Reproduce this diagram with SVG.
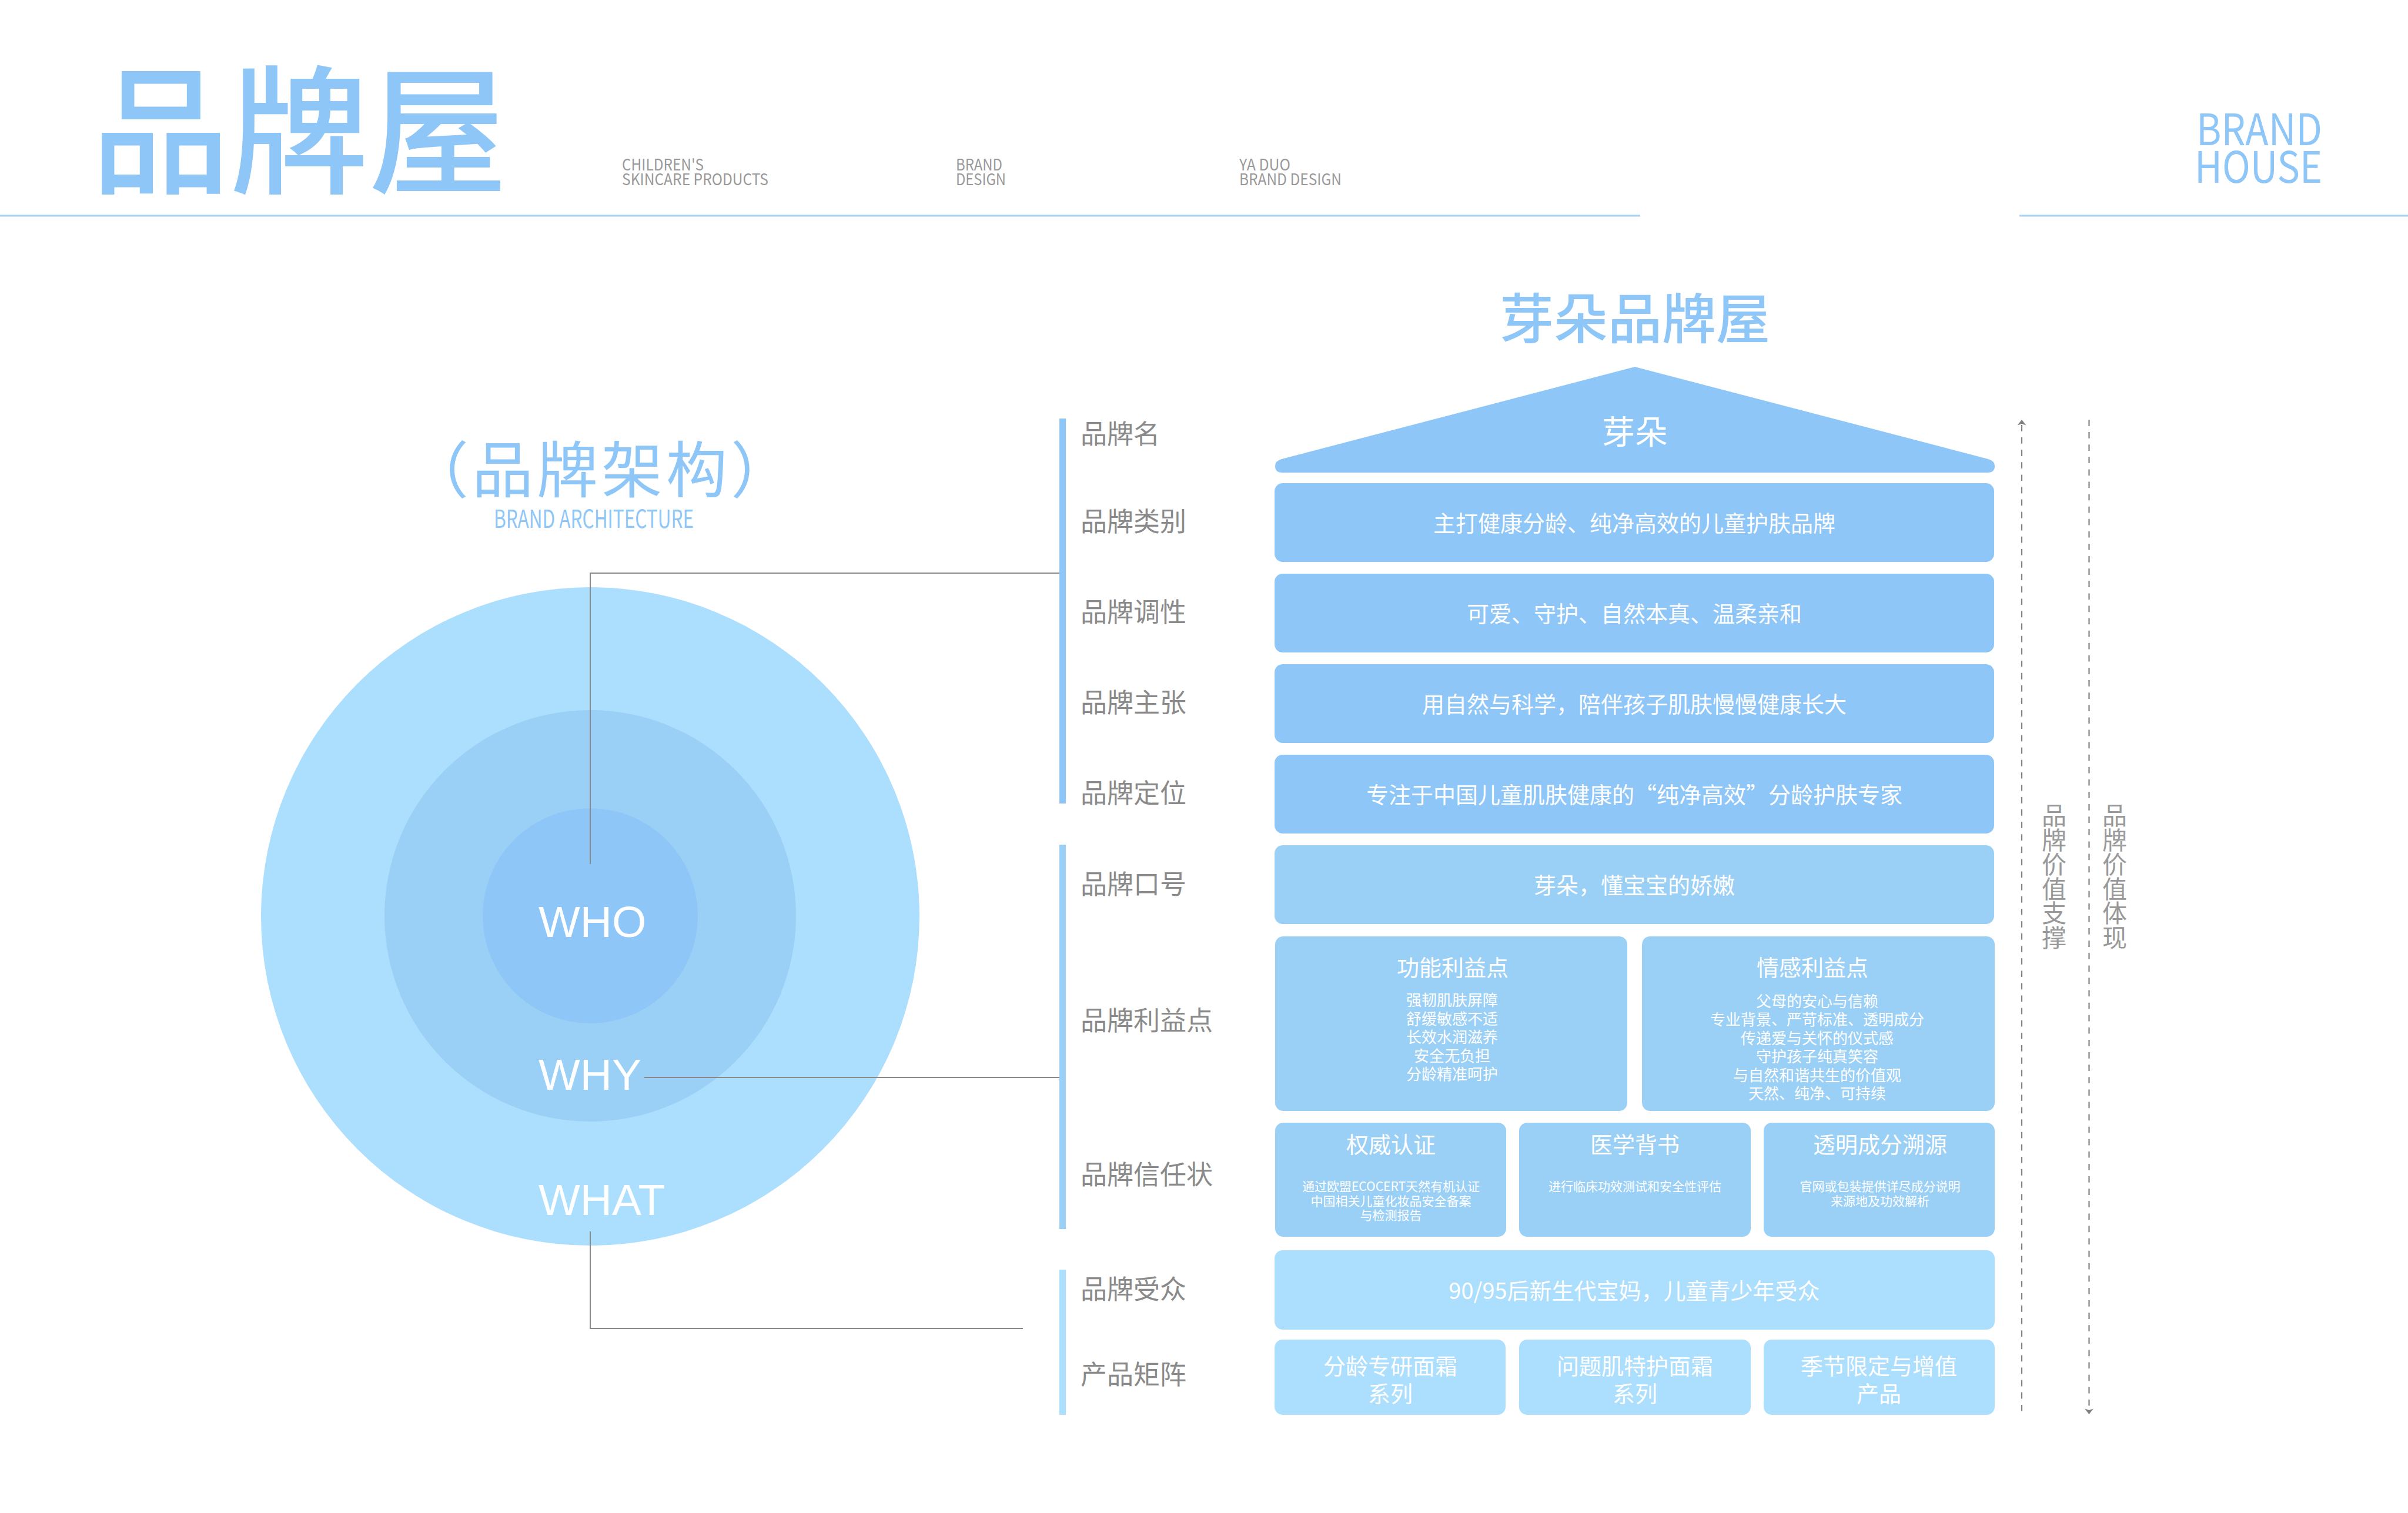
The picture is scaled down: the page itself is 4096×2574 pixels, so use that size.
<svg xmlns="http://www.w3.org/2000/svg" width="4096" height="2574" viewBox="0 0 4096 2574">
<style>
.cjk{font-family:"Noto Sans CJK SC","Noto Sans",sans-serif}
.blue{fill:#8ec6f8}
.mid{fill:#9bd0f6}
.light{fill:#acdefd}
.wt{fill:#ffffff;font-family:"Noto Sans CJK SC","Noto Sans",sans-serif;text-anchor:middle}
.lbl{fill:#8a8a8a;font-family:"Noto Sans CJK SC","Noto Sans",sans-serif;font-size:45px}
.hdr{fill:#999999;font-family:"Noto Sans CJK SC","Noto Sans",sans-serif;font-size:27px}
.conn{fill:none;stroke:#8a8a8a;stroke-width:2}
.dash{fill:none;stroke:#808080;stroke-width:2.2;stroke-dasharray:10.7 10.4}
.vt{fill:#999999;font-family:"Noto Sans CJK SC","Noto Sans",sans-serif;font-size:42px;text-anchor:middle}
</style>
<rect width="4096" height="2574" fill="#ffffff"/>

<g id="header">
<text class="cjk blue" x="509" y="311" font-size="236" font-weight="500" text-anchor="middle">品牌屋</text>
<text class="hdr" x="1058" y="290"><tspan textLength="139" lengthAdjust="spacingAndGlyphs">CHILDREN'S</tspan></text>
<text class="hdr" x="1058" y="315"><tspan textLength="249" lengthAdjust="spacingAndGlyphs">SKINCARE PRODUCTS</tspan></text>
<text class="hdr" x="1626" y="290"><tspan textLength="79" lengthAdjust="spacingAndGlyphs">BRAND</tspan></text>
<text class="hdr" x="1626" y="315"><tspan textLength="85" lengthAdjust="spacingAndGlyphs">DESIGN</tspan></text>
<text class="hdr" x="2108" y="290"><tspan textLength="87" lengthAdjust="spacingAndGlyphs">YA DUO</tspan></text>
<text class="hdr" x="2108" y="315"><tspan textLength="174" lengthAdjust="spacingAndGlyphs">BRAND DESIGN</tspan></text>
<text class="cjk blue" x="3736" y="247" font-size="74" textLength="214" lengthAdjust="spacingAndGlyphs">BRAND</text>
<text class="cjk blue" x="3733" y="311" font-size="74" textLength="217" lengthAdjust="spacingAndGlyphs">HOUSE</text>
<line x1="0" y1="367" x2="2790" y2="367" stroke="#a6d0f5" stroke-width="3"/>
<line x1="3435" y1="367" x2="4096" y2="367" stroke="#a6d0f5" stroke-width="3"/>
</g>

<g id="architecture-title">
<text class="cjk blue" x="1023" y="838" font-size="104" letter-spacing="6" text-anchor="middle">（品牌架构）</text>
<text class="cjk blue" x="840" y="898" font-size="42" textLength="340" lengthAdjust="spacingAndGlyphs">BRAND ARCHITECTURE</text>
</g>

<g id="circles">
<circle id="what-circle" cx="1004" cy="1559" r="560" fill="#acdefd"/>
<circle id="why-circle" cx="1004" cy="1558" r="350" fill="#9bd0f6"/>
<circle id="who-circle" cx="1004" cy="1558" r="183" fill="#8ec6f8"/>
<text x="916" y="1594" font-family="Liberation Sans, Arial, sans-serif" font-size="75" fill="#ffffff">WHO</text>
<text x="916" y="1854" font-family="Liberation Sans, Arial, sans-serif" font-size="75" fill="#ffffff">WHY</text>
<text x="916" y="2067" font-family="Liberation Sans, Arial, sans-serif" font-size="75" fill="#ffffff">WHAT</text>
</g>

<g id="connectors">
<path class="conn" d="M1004 1470 V975 H1802"/>
<path class="conn" d="M1096 1833 H1802"/>
<path class="conn" d="M1004 2095 V2260 H1740"/>
<line class="dash" x1="3439" y1="723" x2="3439" y2="2406"/>
<polygon points="3439,714 3446.5,723.5 3439,721 3431.5,723.5" fill="#808080"/>
<line class="dash" x1="3553.5" y1="714" x2="3553.5" y2="2398"/>
<polygon points="3553.5,2406 3561,2396.5 3553.5,2399 3546,2396.5" fill="#808080"/>
</g>

<g id="bars">
<rect x="1802" y="712" width="11" height="655" fill="#8ec6f8"/>
<rect x="1802" y="1437" width="11" height="654" fill="#9bd0f6"/>
<rect x="1802" y="2160" width="11" height="247" fill="#acdefd"/>
</g>

<g id="labels">
<text class="lbl" x="1838" y="755">品牌名</text>
<text class="lbl" x="1838" y="904">品牌类别</text>
<text class="lbl" x="1838" y="1058">品牌调性</text>
<text class="lbl" x="1838" y="1212">品牌主张</text>
<text class="lbl" x="1838" y="1366">品牌定位</text>
<text class="lbl" x="1838" y="1521">品牌口号</text>
<text class="lbl" x="1838" y="1753">品牌利益点</text>
<text class="lbl" x="1838" y="2015">品牌信任状</text>
<text class="lbl" x="1838" y="2210">品牌受众</text>
<text class="lbl" x="1838" y="2355">产品矩阵</text>
</g>

<g id="house-title">
<text class="cjk blue" x="2781" y="576" font-size="92" font-weight="500" text-anchor="middle">芽朵品牌屋</text>
</g>

<g id="roof">
<path class="blue" d="M2781 624 L2180 781 Q2169 784 2169 793 Q2169 804 2181 804 L3381 804 Q3393 804 3393 793 Q3393 784 3382 781 Z"/>
<text class="wt" x="2781" y="755" font-size="56">芽朵</text>
</g>

<g id="row-category">
<rect class="blue" x="2168" y="822" width="1224" height="134" rx="14"/>
<text class="wt" x="2780" y="904" font-size="38">主打健康分龄、纯净高效的儿童护肤品牌</text>
</g>
<g id="row-tone">
<rect class="blue" x="2168" y="976" width="1224" height="134" rx="14"/>
<text class="wt" x="2780" y="1058" font-size="38">可爱、守护、自然本真、温柔亲和</text>
</g>
<g id="row-claim">
<rect class="blue" x="2168" y="1130" width="1224" height="134" rx="14"/>
<text class="wt" x="2780" y="1212" font-size="38">用自然与科学，陪伴孩子肌肤慢慢健康长大</text>
</g>
<g id="row-position">
<rect class="blue" x="2168" y="1284" width="1224" height="134" rx="14"/>
<text class="wt" x="2780" y="1366" font-size="38">专注于中国儿童肌肤健康的“纯净高效”分龄护肤专家</text>
</g>
<g id="row-slogan">
<rect class="mid" x="2168" y="1438" width="1224" height="134" rx="14"/>
<text class="wt" x="2780" y="1520" font-size="38">芽朵，懂宝宝的娇嫩</text>
</g>

<g id="benefit-functional">
<rect class="mid" x="2169" y="1593" width="599" height="297" rx="14"/>
<text class="wt" x="2471" y="1660" font-size="38">功能利益点</text>
<text class="wt" x="2470" font-size="26"><tspan x="2470" y="1711">强韧肌肤屏障</tspan><tspan x="2470" y="1742.5">舒缓敏感不适</tspan><tspan x="2470" y="1774">长效水润滋养</tspan><tspan x="2470" y="1805.5">安全无负担</tspan><tspan x="2470" y="1837">分龄精准呵护</tspan></text>
</g>
<g id="benefit-emotional">
<rect class="mid" x="2793" y="1593" width="600" height="297" rx="14"/>
<text class="wt" x="3083" y="1660" font-size="38">情感利益点</text>
<text class="wt" x="3091" font-size="26"><tspan x="3091" y="1712.5">父母的安心与信赖</tspan><tspan x="3091" y="1744">专业背景、严苛标准、透明成分</tspan><tspan x="3091" y="1775.5">传递爱与关怀的仪式感</tspan><tspan x="3091" y="1807">守护孩子纯真笑容</tspan><tspan x="3091" y="1838.5">与自然和谐共生的价值观</tspan><tspan x="3091" y="1870">天然、纯净、可持续</tspan></text>
</g>

<g id="trust-authority">
<rect class="mid" x="2169" y="1910" width="393" height="194" rx="14"/>
<text class="wt" x="2366" y="1961" font-size="38">权威认证</text>
<text class="wt" x="2366" font-size="21"><tspan x="2366" y="2026">通过欧盟ECOCERT天然有机认证</tspan><tspan x="2366" y="2050.5">中国相关儿童化妆品安全备案</tspan><tspan x="2366" y="2075">与检测报告</tspan></text>
</g>
<g id="trust-medical">
<rect class="mid" x="2584" y="1910" width="394" height="194" rx="14"/>
<text class="wt" x="2781" y="1961" font-size="38">医学背书</text>
<text class="wt" x="2781" y="2026" font-size="21">进行临床功效测试和安全性评估</text>
</g>
<g id="trust-transparency">
<rect class="mid" x="3000" y="1910" width="393" height="194" rx="14"/>
<text class="wt" x="3198" y="1961" font-size="38">透明成分溯源</text>
<text class="wt" x="3198" font-size="21"><tspan x="3198" y="2026">官网或包装提供详尽成分说明</tspan><tspan x="3198" y="2050.5">来源地及功效解析</tspan></text>
</g>

<g id="row-audience">
<rect class="light" x="2168" y="2127" width="1225" height="135" rx="14"/>
<text class="wt" x="2780" y="2210" font-size="38">90/95后新生代宝妈，儿童青少年受众</text>
</g>

<g id="product-1">
<rect class="light" x="2168" y="2279" width="393" height="128" rx="14"/>
<text class="wt" x="2365" font-size="38"><tspan x="2365" y="2338">分龄专研面霜</tspan><tspan x="2365" y="2385">系列</tspan></text>
</g>
<g id="product-2">
<rect class="light" x="2584" y="2279" width="394" height="128" rx="14"/>
<text class="wt" x="2781" font-size="38"><tspan x="2781" y="2338">问题肌特护面霜</tspan><tspan x="2781" y="2385">系列</tspan></text>
</g>
<g id="product-3">
<rect class="light" x="3000" y="2279" width="393" height="128" rx="14"/>
<text class="wt" x="3196" font-size="38"><tspan x="3196" y="2338">季节限定与增值</tspan><tspan x="3196" y="2385">产品</tspan></text>
</g>

<g id="value-support">
<text class="vt"><tspan x="3494" y="1403">品</tspan><tspan x="3494" y="1444.5">牌</tspan><tspan x="3494" y="1486">价</tspan><tspan x="3494" y="1527.5">值</tspan><tspan x="3494" y="1569">支</tspan><tspan x="3494" y="1610.5">撑</tspan></text>
</g>
<g id="value-display">
<text class="vt"><tspan x="3597" y="1403">品</tspan><tspan x="3597" y="1444.5">牌</tspan><tspan x="3597" y="1486">价</tspan><tspan x="3597" y="1527.5">值</tspan><tspan x="3597" y="1569">体</tspan><tspan x="3597" y="1610.5">现</tspan></text>
</g>
</svg>
